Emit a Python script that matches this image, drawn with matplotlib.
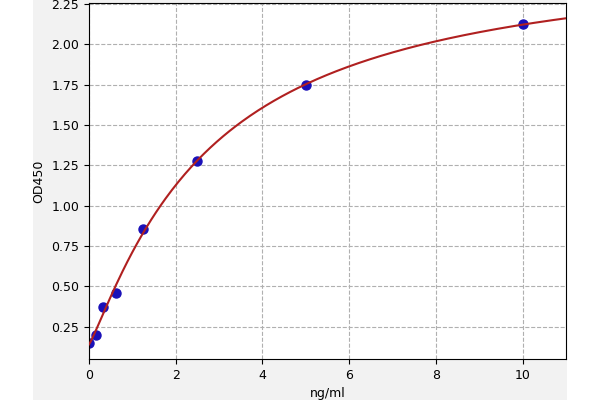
import matplotlib
matplotlib.use("Agg")
import matplotlib.pyplot as plt
import numpy as np
from matplotlib.patches import Rectangle

# standard concentrations and measured OD
conc = [0, 0.156, 0.312, 0.625, 1.25, 2.5, 5, 10]
od450 = [0.15, 0.198, 0.373, 0.456, 0.858, 1.275, 1.75, 2.125]

x_ticks = [0, 2, 4, 6, 8, 10]
y_ticks = [0.25, 0.50, 0.75, 1.00, 1.25, 1.50, 1.75, 2.00, 2.25]


def fit_4pl(x, y):
    # grid over slope/midpoint, linear least squares for bottom/top
    x = np.asarray(x, float)
    y = np.asarray(y, float)
    best = None
    for b in np.linspace(0.5, 2.5, 81):
        for c in np.linspace(1.0, 30.0, 291):
            g = 1.0 / (1.0 + (x / c) ** b)
            A = np.column_stack([g, 1 - g])
            coef, *_ = np.linalg.lstsq(A, y, rcond=None)
            err = np.sum((A @ coef - y) ** 2)
            if best is None or err < best[0]:
                best = (err, coef[0], b, c, coef[1])
    return best[1:]


a, b, c, d = fit_4pl(conc, od450)
xs = np.linspace(0, 11, 300)
ys = d + (a - d) / (1 + (xs / c) ** b)

plt.rcParams["font.size"] = 9

fig = plt.figure(figsize=(6, 4), dpi=100)
fig.patch.set_facecolor("white")
fig.patches.append(Rectangle((33 / 600, 0), 534 / 600, 1, transform=fig.transFigure,
                             facecolor="#f2f2f2", edgecolor="none", zorder=-10))

ax = fig.add_axes([89 / 600, 41 / 400, 477 / 600, 356 / 400])
ax.plot(conc, od450, "o", color="#1a10b8", markersize=6.5, zorder=2)
ax.plot(xs, ys, color="#b02020", linewidth=1.5, zorder=3)

ax.set_xlim(0, 11)
ax.set_ylim(0.05, 2.256)
ax.set_xticks(x_ticks)
ax.set_yticks(y_ticks)
ax.grid(True, linestyle="--", color="#b0b0b0", linewidth=0.8)
ax.set_axisbelow(True)

ax.set_xlabel("ng/ml")
ax.set_ylabel("OD450")

fig.savefig("out.png", dpi=100, facecolor=fig.get_facecolor())
